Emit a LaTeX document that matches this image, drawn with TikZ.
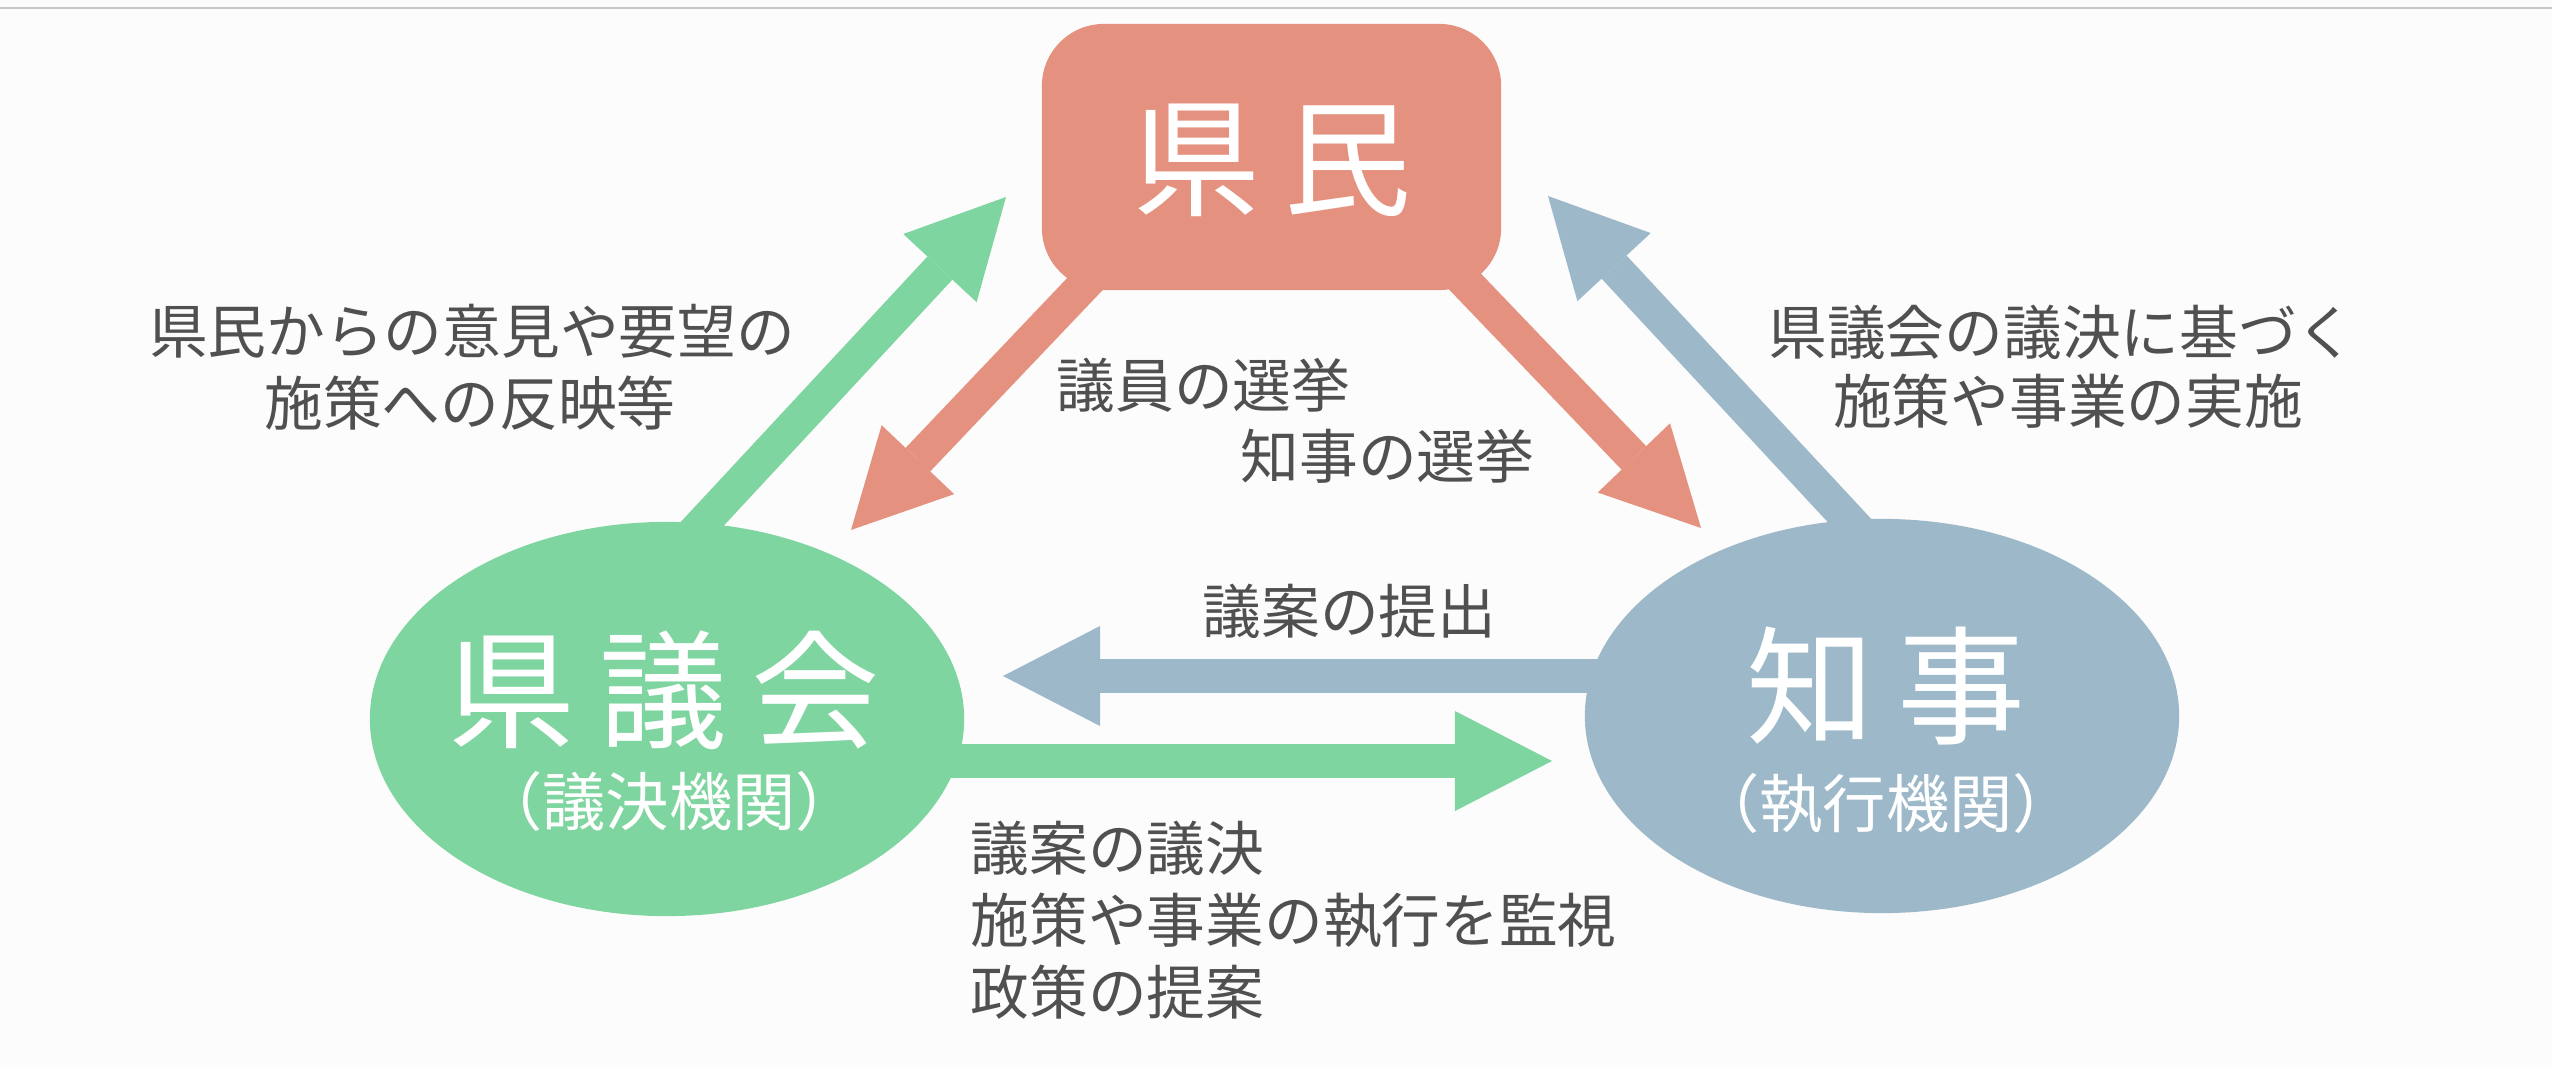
\documentclass[tikz,border=0pt]{standalone}
\usepackage{fontspec}
\setmainfont{Noto Sans CJK JP}
\usetikzlibrary{arrows.meta,shapes.geometric}
\pgfdeclarelayer{bg}
\pgfsetlayers{bg,main}
\definecolor{cred}{HTML}{E5917F}
\definecolor{cgreen}{HTML}{7FD5A0}
\definecolor{cblue}{HTML}{9CB8C9}
\definecolor{ctext}{HTML}{505050}
\definecolor{cpage}{HTML}{FCFCFC}
\definecolor{cline}{HTML}{C8C8C8}
\newcommand\bigsp{\kern0.24cm}
\begin{document}
\begin{tikzpicture}[x=0.01cm,y=-0.01cm,
  fat/.style={line width=0.34cm,-{Triangle[length=0.97cm,width=1.0cm,line width=0pt]}},
  lbl/.style={inner sep=0pt,text=ctext,font=\fontsize{16.7pt}{20pt}\selectfont},
  bigtxt/.style={inner sep=0pt,text=white,font=\fontsize{36.4pt}{40pt}\selectfont},
  subtxt/.style={inner sep=0pt,text=white,font=\fontsize{18pt}{20pt}\selectfont},
  oval/.style={ellipse,draw=none,minimum width=5.94cm,minimum height=3.94cm,inner sep=0pt}]
\useasboundingbox (0,0) rectangle (2552,1067);
\begin{pgfonlayer}{bg}
\fill[cpage] (0,0) rectangle (2552,1067);
\fill[cline] (0,7) rectangle (2552,9);
\end{pgfonlayer}

% main nodes
\node[rectangle,rounded corners=0.62cm,fill=cred,minimum width=4.59cm,minimum height=2.66cm,inner sep=0pt] (kenmin) at (1271.5,157) {};
\node[oval,fill=cgreen] (gikai) at (667,719) {};
\node[oval,fill=cblue] (chiji) at (1882,716) {};

% node texts
\node[bigtxt] (tkenmin) at (1272,160) {県\bigsp 民};
\node[bigtxt] (tgikai) at (664,690) {県\bigsp 議\bigsp 会};
\node[subtxt] (sgikai) at (669,801) {（議決機関）};
\node[bigtxt] (tchiji) at (1886,686) {知\bigsp 事};
\node[subtxt] (schiji) at (1886,803) {（執行機関）};

% arrow end coordinates
\coordinate (gA) at (690,537);
\coordinate (gB) at (1006,197);
\coordinate (bA) at (1862,534);
\coordinate (bB) at (1548,196);
\coordinate (rA) at (1123,244);
\coordinate (rB) at (851,530);
\coordinate (rC) at (1429,244);
\coordinate (rD) at (1701,528);
\coordinate (hA) at (1620,676);
\coordinate (hB) at (1003,676);
\coordinate (kA) at (930,761);
\coordinate (kB) at (1552,761);

\begin{pgfonlayer}{bg}
\draw[fat,cgreen] (gA) -- (gB);
\draw[fat,cblue] (bA) -- (bB);
\draw[fat,cred] (rA) -- (rB);
\draw[fat,cred] (rC) -- (rD);
\draw[fat,cblue] (hA) -- (hB);
\draw[fat,cgreen] (kA) -- (kB);
\end{pgfonlayer}

% labels
\node[lbl] (l1) at (472,331) {県民からの意見や要望の};
\node[lbl] (l2) at (470,403) {施策への反映等};
\node[lbl,anchor=west] (m1) at (1056,385) {議員の選挙};
\node[lbl,anchor=west] (m2) at (1240,456) {知事の選挙};
\node[lbl] (r1) at (2062,332) {県議会の議決に基づく};
\node[lbl] (r2) at (2068,401) {施策や事業の実施};
\node[lbl,anchor=west] (p1) at (1202,611) {議案の提出};
\node[lbl,anchor=west] (b1) at (970,848) {議案の議決};
\node[lbl,anchor=west] (b2) at (970,921) {施策や事業の執行を監視};
\node[lbl,anchor=west] (b3) at (970,992) {政策の提案};
\end{tikzpicture}
\end{document}
